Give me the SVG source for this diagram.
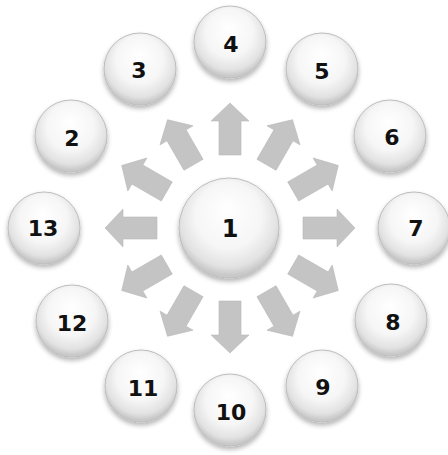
<svg xmlns="http://www.w3.org/2000/svg" xmlns:xlink="http://www.w3.org/1999/xlink" width="448" height="455" viewBox="0 0 448 455">
<style>
.btn{fill:url(#g);stroke:#bdbdbd;stroke-width:1;filter:url(#sh)}
.lbl{font-family:"DejaVu Sans",sans-serif;font-weight:bold;font-size:22px;fill:#111;text-anchor:middle;dominant-baseline:central}
.big{font-size:24px}
.arr{fill:#c4c4c4;stroke:#b8b8b8;stroke-width:0.6}
</style>
<defs>
<radialGradient id="g" cx="0.5" cy="0.42" r="0.55" fx="0.48" fy="0.3">
<stop offset="0" stop-color="#ffffff"/>
<stop offset="0.6" stop-color="#f6f6f6"/>
<stop offset="0.88" stop-color="#e2e2e2"/>
<stop offset="1" stop-color="#c9c9c9"/>
</radialGradient>
<filter id="sh" x="-30%" y="-30%" width="160%" height="170%">
<feGaussianBlur in="SourceAlpha" stdDeviation="2.5"/>
<feOffset dy="3" result="b"/>
<feComponentTransfer><feFuncA type="linear" slope="0.3"/></feComponentTransfer>
<feMerge><feMergeNode/><feMergeNode in="SourceGraphic"/></feMerge>
</filter>
<path id="a" d="M0,-11 H34 V-19 L52,0 L34,19 V11 H0 Z"/>
</defs>
<rect width="448" height="455" fill="#ffffff"/>
<g id="connectors">
<use xlink:href="#a" class="arr" transform="translate(230 228) rotate(-90) translate(73 0)"/>
<use xlink:href="#a" class="arr" transform="translate(230 228) rotate(-60) translate(73 0)"/>
<use xlink:href="#a" class="arr" transform="translate(230 228) rotate(-30) translate(73 0)"/>
<use xlink:href="#a" class="arr" transform="translate(230 228) rotate(0) translate(73 0)"/>
<use xlink:href="#a" class="arr" transform="translate(230 228) rotate(30) translate(73 0)"/>
<use xlink:href="#a" class="arr" transform="translate(230 228) rotate(60) translate(73 0)"/>
<use xlink:href="#a" class="arr" transform="translate(230 228) rotate(90) translate(73 0)"/>
<use xlink:href="#a" class="arr" transform="translate(230 228) rotate(120) translate(73 0)"/>
<use xlink:href="#a" class="arr" transform="translate(230 228) rotate(150) translate(73 0)"/>
<use xlink:href="#a" class="arr" transform="translate(230 228) rotate(180) translate(73 0)"/>
<use xlink:href="#a" class="arr" transform="translate(230 228) rotate(210) translate(73 0)"/>
<use xlink:href="#a" class="arr" transform="translate(230 228) rotate(240) translate(73 0)"/>
</g>
<g id="node1"><circle class="btn" cx="229" cy="228" r="50"/><text class="lbl big" x="230" y="229">1</text></g>
<g id="node4"><circle class="btn" cx="230" cy="42" r="36"/><text class="lbl" x="231" y="44">4</text></g>
<g id="node5"><circle class="btn" cx="322" cy="69" r="36"/><text class="lbl" x="322" y="71">5</text></g>
<g id="node6"><circle class="btn" cx="390" cy="136" r="36"/><text class="lbl" x="392" y="137">6</text></g>
<g id="node7"><circle class="btn" cx="414" cy="228" r="36"/><text class="lbl" x="416" y="228">7</text></g>
<g id="node8"><circle class="btn" cx="391" cy="320" r="36"/><text class="lbl" x="393" y="322">8</text></g>
<g id="node9"><circle class="btn" cx="322" cy="386" r="36"/><text class="lbl" x="323" y="387">9</text></g>
<g id="node10"><circle class="btn" cx="230" cy="410" r="36"/><text class="lbl" x="231" y="412">10</text></g>
<g id="node11"><circle class="btn" cx="141" cy="386" r="36"/><text class="lbl" x="143" y="388">11</text></g>
<g id="node12"><circle class="btn" cx="72" cy="321" r="36"/><text class="lbl" x="72" y="323">12</text></g>
<g id="node13"><circle class="btn" cx="44" cy="228" r="36"/><text class="lbl" x="43" y="228">13</text></g>
<g id="node2"><circle class="btn" cx="71" cy="136" r="36"/><text class="lbl" x="72" y="138">2</text></g>
<g id="node3"><circle class="btn" cx="140" cy="69" r="36"/><text class="lbl" x="139" y="70">3</text></g>
</svg>
